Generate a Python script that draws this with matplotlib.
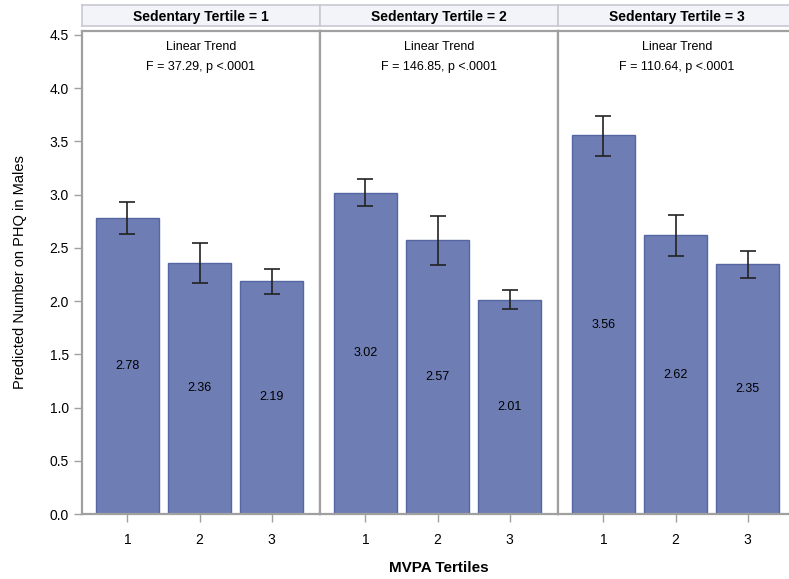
import matplotlib.pyplot as plt
import numpy as np

plt.rcParams['font.family'] = ['Liberation Sans', 'DejaVu Sans']

# data
panels = ["Sedentary Tertile = 1", "Sedentary Tertile = 2", "Sedentary Tertile = 3"]
trend = ["F = 37.29, p <.0001", "F = 146.85, p <.0001", "F = 110.64, p <.0001"]
mvpa = [1, 2, 3]
means = [[2.78, 2.36, 2.19],
         [3.02, 2.57, 2.01],
         [3.56, 2.62, 2.35]]
lower = [[2.63, 2.17, 2.07],
         [2.89, 2.34, 1.93],
         [3.36, 2.42, 2.22]]
upper = [[2.93, 2.55, 2.30],
         [3.15, 2.80, 2.10],
         [3.74, 2.81, 2.47]]

W, H = 789, 579
fig = plt.figure(figsize=(W / 100, H / 100), dpi=100)

bar_c = "#6E7DB3"
edge_c = "#5566A3"
grid_c = "#A0A0A0"

y0, y1 = 514, 30.7
pw = 238
lefts = [82, 320, 558]

for i in range(3):
    ax = fig.add_axes([lefts[i] / W, (H - y0) / H, pw / W, (y0 - y1) / H])
    m = np.array(means[i])
    lo = m - np.array(lower[i])
    hi = np.array(upper[i]) - m
    ax.bar(mvpa, m, width=0.87, color=bar_c, edgecolor=edge_c, linewidth=1)
    ax.errorbar(mvpa, m, yerr=[lo, hi], fmt="none", ecolor="#222222",
                elinewidth=1.2, capsize=5.5, capthick=1.2)
    for x, v in zip(mvpa, m):
        ax.text(x, v / 2, f"{v:.2f}", ha="center", va="center", fontsize=9, color="black")
    ax.set_xlim(0.37, 3.67)
    ax.set_ylim(0, 4.54)
    ax.set_xticks(mvpa)
    ax.set_xticklabels([str(v) for v in mvpa], fontsize=10)
    ax.set_yticks(np.arange(0, 4.51, 0.5))
    if i == 0:
        ax.set_yticklabels([f"{v:.1f}" for v in np.arange(0, 4.51, 0.5)], fontsize=10)
        ax.set_ylabel("Predicted Number on PHQ in Males", fontsize=10.5, labelpad=16)
    else:
        ax.tick_params(axis="y", left=False, labelleft=False)
    ax.tick_params(colors=grid_c, labelcolor="black", length=6, width=1)
    ax.tick_params(axis="x", pad=8)
    for s in ax.spines.values():
        s.set_color(grid_c)
        s.set_linewidth(1.6)
    ax.text(0.5, 0.966, "Linear Trend", transform=ax.transAxes, ha="center", va="center", fontsize=9)
    ax.text(0.5, 0.925, trend[i], transform=ax.transAxes, ha="center", va="center", fontsize=9)
    if i == 1:
        ax.set_xlabel("MVPA Tertiles", fontsize=11, fontweight="bold", labelpad=10)

    hx = fig.add_axes([lefts[i] / W, (H - 26) / H, pw / W, 21 / H])
    hx.set_facecolor("#F3F3FA")
    hx.set_xticks([])
    hx.set_yticks([])
    for s in hx.spines.values():
        s.set_color("#C8C8D0")
        s.set_linewidth(1.2)
    hx.text(0.5, 0.45, panels[i], transform=hx.transAxes, ha="center", va="center",
            fontsize=10, fontweight="bold")

fig.savefig("out.png", dpi=100)
